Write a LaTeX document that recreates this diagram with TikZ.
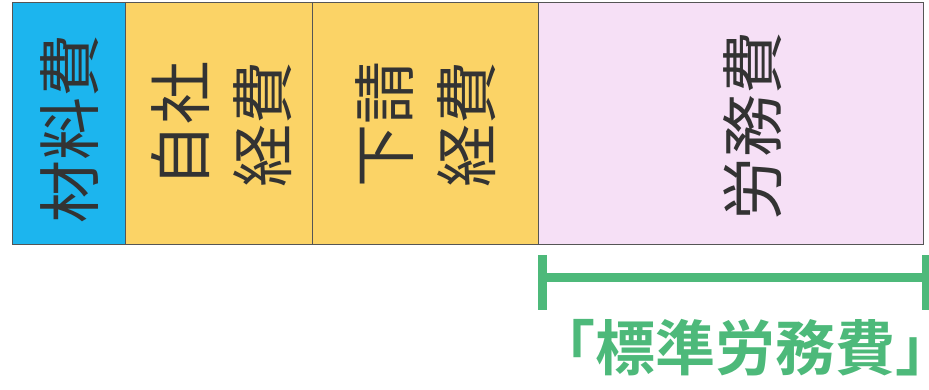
\documentclass[tikz,border=0pt]{standalone}
\usepackage{fontspec}
\newfontfamily\jp{Noto Sans CJK JP}
\newfontfamily\jpb[RawFeature=+halt]{Noto Sans CJK JP Bold}
\definecolor{blueA}{HTML}{1CB5EE}
\definecolor{yellowA}{HTML}{FBD366}
\definecolor{pinkA}{HTML}{F6E0F6}
\definecolor{greenA}{HTML}{4DB97A}
\definecolor{inkA}{HTML}{333333}
\definecolor{borderA}{HTML}{555555}
\begin{document}
\begin{tikzpicture}[x=1pt,y=1pt,
  cell/.style={draw=borderA, line width=1pt, anchor=south west, inner sep=0pt, minimum height=242pt},
  lbl/.style={font=\jp\fontsize{63}{82}\selectfont, text=inkA, rotate=90, align=center, inner sep=0pt},
  brk/.style={draw=greenA, line width=9pt}]
\useasboundingbox (0,0) rectangle (929,390);
\node[cell, fill=blueA, minimum width=113pt] (mat) at (12,145) {};
\node[cell, fill=yellowA, minimum width=187pt] (own) at (125,145) {};
\node[cell, fill=yellowA, minimum width=226pt] (sub) at (312,145) {};
\node[cell, fill=pinkA, minimum width=385pt] (lab) at (538,145) {};
\node[lbl] (tmat) at (70,261) {材料費};
\node[lbl] (town) at (222,265) {自社\\経費};
\node[lbl] (tsub) at (426,265) {下請\\経費};
\node[lbl] (tlab) at (753,264) {労務費};
\coordinate (bl) at (542.5,112);
\coordinate (bl1) at (542.5,135);
\coordinate (bl2) at (542.5,80);
\coordinate (br1) at (926,135);
\coordinate (br2) at (926,80);
\coordinate (brend) at (929,112);
\draw[brk] (bl1) -- (bl2);
\draw[brk] (br1) -- (br2);
\draw[brk] (bl) -- (brend);
\node[font=\jpb\fontsize{60}{60}\selectfont, text=greenA, inner sep=0pt, text depth=0pt, text height=50pt, anchor=base] (std) at (745,19) {「標準労務費」};
\end{tikzpicture}
\end{document}
